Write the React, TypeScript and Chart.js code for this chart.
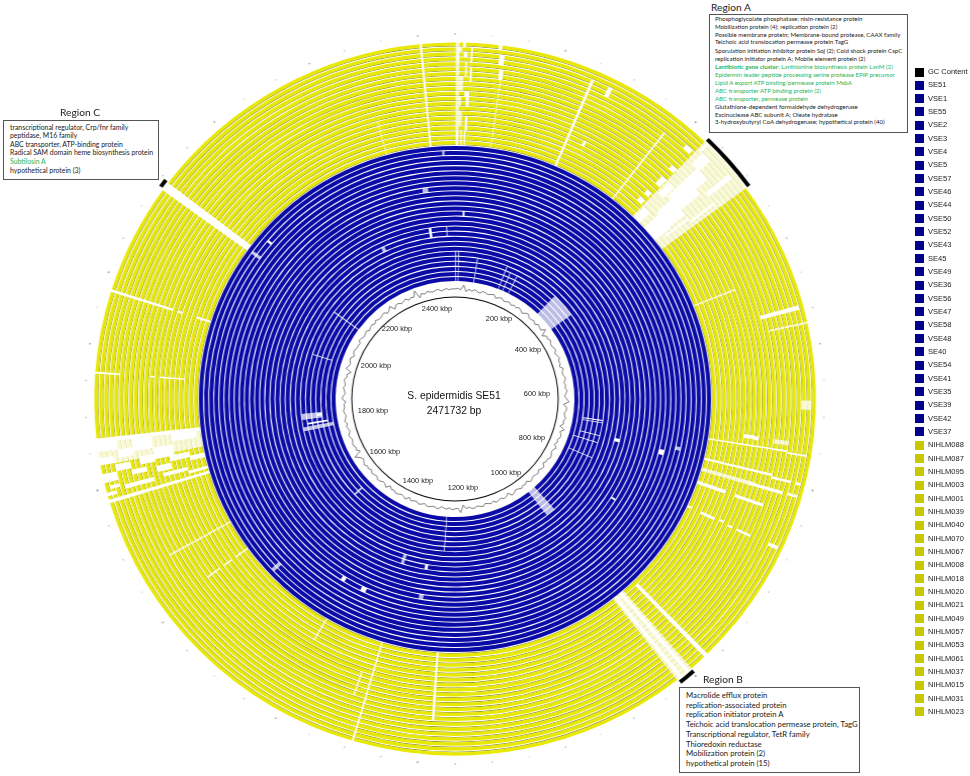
import React, { useEffect, useRef } from "react";
import { Chart, registerables } from "chart.js";

Chart.register(...registerables);

const genomeLengthKbp = 2471.732;

const blueGenomes = ["SE51","VSE1","SE55","VSE2","VSE3","VSE4","VSE5","VSE57","VSE46","VSE44","VSE50","VSE52","VSE43","SE45","VSE49","VSE36","VSE56","VSE47","VSE58","VSE48","SE40","VSE54","VSE41","VSE35","VSE39","VSE42","VSE37"];
const yellowGenomes = ["NIHLM088","NIHLM087","NIHLM095","NIHLM003","NIHLM001","NIHLM039","NIHLM040","NIHLM070","NIHLM067","NIHLM008","NIHLM018","NIHLM020","NIHLM021","NIHLM049","NIHLM057","NIHLM053","NIHLM061","NIHLM037","NIHLM015","NIHLM031","NIHLM023"];

// [start kbp, end kbp, first ring, last ring, identity (0 absent, 0.5 low)]
const blueGaps: number[][] = [
  [301,369,1,5,0.5],[145,147,1,5,0.5],[160,162,1,4,0],[181,183,1,4,0],[1,3,1,6,0.5],[9,11,1,6,0.5],[61,63,1,5,0.5],
  [2412,2422,19,19,0.5],[16,20,14,14,0],[2412,2418,10,11,0],[2452,2454,10,11,0],[2295,2303,10,10,0.5],[2452,2455,26,26,0.5],
  [674,677,3,6,0],[681,683,3,6,0.5],[716,718,3,6,0],[735,737,2,6,0],[778,780,2,6,0],[713,721,10,10,0],[713,723,19,19,0],[702,708,22,22,0.5],[839,843,14,14,0],
  [950,975,1,6,0.5],[1353,1360,10,11,0.5],[1298,1305,11,11,0],[1448,1456,19,19,0],[1405,1415,19,19,0],[1298,1306,17,17,0.5],[1262,1264,1,7,0],[1552,1558,25,26,0.5],
  [1800,1815,4,7,0.5],[1805,1812,4,4,0],[1785,1790,3,6,0],[1770,1780,2,7,0.5],[1550,1555,3,4,0.5],[2100,2103,1,6,0.5],[2130,2134,25,25,0],[2100,2105,25,26,0.5],[1974,1976,3,6,0.5],
];

const yellowGaps: number[][] = [
  // Region A
  [301,369,1,21,0.5],[326,352,1,4,0],[322,350,5,8,0],[316,342,9,13,0],[316,334,14,16,0],[304,316,1,3,0],[304,314,8,10,0],[308,320,17,19,0],[355,358,3,8,0],[345,351,15,20,0],[303,306,20,21,0],[360,363,9,14,0],
  [289,298,4,4,0],[290,298,6,6,0],[292,300,9,10,0],[292,300,13,13,0],[288,298,18,18,0],[259,261,1,17,0],
  // Top of the circle
  [1,5,1,21,0.5],[9,12,21,21,0],[4,8,20,20,0.5],[10,14,19,19,0],[2,5,18,20,0],[18,20,18,20,0],[12,14,15,17,0.5],[18,20,14,16,0],[3,10,12,14,0.5],[12,16,11,11,0],[3,8,9,10,0.5],[14,18,9,11,0],[5,9,5,7,0.5],[14,17,4,6,0],[1,5,1,3,0],[8,10,1,3,0],[13,15,1,3,0],
  [48,52,21,21,0],[50,56,18,19,0],[52,57,15,16,0],[54.5,55.5,1,14,0],[2433,2435.5,1,21,0],[2365,2366,1,7,0.5],[157,160,1,19,0],[178,183,18,19,0],[180,184,7,7,0],
  // Right side
  [512,517,13,15,0],[512,517,16,18,0],[512,517,19,20,0],[532,534,14,21,0.5],[469,471,1,9,0.5],[620,630,19,20,0.5],[666,671,8,9,0],[667,672,10,10,0],[668,673,14,16,0.5],
  [679,681,1,16,0],[681,683,17,20,0],[710,713,1,14,0],[726,731,1,11,0.5],[727,731,11,15,0],[727,731,16,17,0],[727,730,19,20,0],[713,716,15,18,0],[713,716,20,20,0],
  [747,752,1,6,0],[748,752,9,14,0],[788,791,1,1,0],[788,792,4,6,0],[787,790,8,8,0],[789,792,10,10,0],[789,792,12,14,0],[788,792,19,20,0],
  // Region B
  [955,975,1,21,0.5],[958,962,1,21,0],[968,972,1,21,0],[931,936,2,10,0],[931,936,11,17,0],[931,936,18,21,0],
  // Bottom
  [1261,1264,1,14,0],[1348,1350,1,21,0],[1363,1365,8,12,0.5],[1441,1443,1,5,0.5],[1654,1656,1,14,0.5],[1605,1607,1,3,0],[1605,1607,5,6,0],[1605,1607,8,10,0],
  // Left side
  [1805,1810,1,21,0],[1737,1741,1,21,0],[1780,1805,1,21,0.5],[1795,1805,18,21,0],[1785,1795,15,17,0],[1790,1805,11,14,0],[1775,1790,7,10,0],[1795,1805,2,6,0],[1780,1788,19,21,0],[1770,1778,16,18,0],[1772,1782,11,13,0],[1768,1776,4,7,0],[1760,1770,19,21,0],[1762,1768,13,15,0],[1758,1766,8,10,0],[1763,1770,1,3,0],[1752,1756,19,20,0],[1748,1753,12,17,0],[1750,1755,5,9,0],[1745,1749,20,21,0],[1745,1749,1,4,0],
  [1882,1884,17,21,0],[1882,1884,10,10,0],[1882,1884,4,8,0],[1974,1977,9,21,0],[1974,1977,7,7,0],[1974,1977,1,3,0],
  // Region C
  [2100,2110,1,21,0],[2102,2108,8,14,0.5],
];

const regionMarkers = [[301,369],[955,974],[2102,2111]];

// GC content (%), one reading every 10 kbp
const gcContent = [
  32.4,33.0,31.8,35.6,30.8,32.9,31.7,33.2,32.1,31.4,33.3,32.5,31.9,32.8,33.4,31.2,32.6,33.1,31.6,32.2,
  33.0,31.5,32.7,31.9,33.2,32.3,31.1,32.9,33.6,31.7,32.0,32.8,31.3,33.1,32.4,31.8,34.8,29.8,32.6,31.9,
  33.3,32.1,31.6,32.7,33.0,31.4,32.5,33.2,31.8,32.3,30.9,33.4,32.0,31.7,32.9,33.1,31.5,32.6,31.9,33.3,
  32.2,31.2,32.8,34.5,30.4,32.7,33.0,31.6,32.1,33.2,31.8,32.5,30.2,34.2,31.4,32.9,33.1,31.7,32.4,31.0,
  33.5,32.0,31.6,32.8,33.3,31.9,32.2,30.8,33.2,32.6,31.5,33.0,32.3,31.8,32.7,33.4,31.1,32.5,31.9,33.1,
  32.0,31.4,32.9,33.6,30.6,32.4,33.0,31.7,32.2,33.3,31.6,32.8,32.1,31.3,33.2,32.5,31.8,32.9,33.0,31.5,
  32.6,29.6,35.2,31.8,32.3,33.1,31.6,32.7,32.0,31.2,33.4,32.4,31.9,32.8,33.0,31.4,32.5,33.3,31.7,32.1,
  32.9,31.0,33.5,32.2,31.6,32.7,33.1,31.8,32.4,30.7,33.6,32.0,31.5,32.9,33.2,31.7,32.3,33.0,31.4,32.6,
  31.9,33.3,32.1,31.2,32.8,36.0,30.2,32.5,31.8,33.1,32.4,31.6,32.7,33.2,31.3,32.0,32.9,31.7,33.4,32.2,
  31.5,32.6,33.0,31.9,32.3,30.9,33.5,32.8,31.4,32.1,33.1,31.8,32.5,33.3,31.6,32.0,29.4,33.9,32.4,31.7,
  32.9,33.2,31.1,32.6,33.0,31.9,32.2,31.5,33.4,32.7,31.8,32.3,33.1,31.3,32.5,32.9,31.6,33.2,32.0,31.8,
  32.6,33.3,31.2,32.4,34.6,30.5,32.8,33.0,31.7,32.1,33.5,31.4,32.7,32.0,36.4,30.1,32.9,31.6,33.1,32.3,
  31.8,32.5,33.2,31.5,32.2,33.0,31.9,32.6,
];
const gcTickKbp = gcContent.map((_, i) => i * 10);

// Faint guide dots outside the rings, one every 40 kbp (darkness 1-9)
const guideDots = [4,2,2,5,2,3,2,7,3,2,2,4,2,3,5,2,3,2,6,3,2,3,2,4,7,2,3,2,3,2,3,4,6,3,3,2,5,3,2,3,6,2,3,3,7,2,3,3,5,2,6,3,2,4,3,6,2,3,5,3,2,5];

const kbpLabels = ["2400 kbp","200 kbp","400 kbp","600 kbp","800 kbp","1000 kbp","1200 kbp","1400 kbp","1600 kbp","1800 kbp","2000 kbp","2200 kbp"];
const kbpLabelX = [437,499,528,537,532,506,463,418,385,373,376,397];
const kbpLabelY = [309,319,350,394,438,473,488,481,452,411,366,329];

const regionALines = [
  "Phosphoglycolate phosphatase; nisin-resistance protein",
  "Mobilization protein (4); replication protein (2)",
  "Possible membrane protein; Membrane-bound protease, CAAX family",
  "Teichoic acid translocation permease protein TagG",
  "Sporulation initiation inhibitor protein Soj (2); Cold shock protein CspC",
  "replication initiator protein A; Mobile element protein (2)",
  "Lantibiotic gene cluster: Lanthionine biosynthesis protein LanM (2)",
  "Epidermin leader peptide processing serine protease EPIP precursor",
  "Lipid A export ATP binding/permease protein MsbA",
  "ABC transporter ATP binding protein (2)",
  "ABC transporter, permease protein",
  "Glutathione-dependent formaldehyde dehydrogenase",
  "Excinuclease ABC subunit A; Oleate hydratase",
  "3-hydroxybutyryl CoA dehydrogenase; hypothetical protein (40)",
];
const regionAGreen = [6,7,8,9,10];
const regionBLines = [
  "Macrolide efflux protein",
  "replication-associated protein",
  "replication initiator protein A",
  "Teichoic acid translocation permease protein, TagG",
  "Transcriptional regulator, TetR family",
  "Thioredoxin reductase",
  "Mobilization protein (2)",
  "hypothetical protein (15)",
];
const regionCLines = [
  "transcriptional regulator, Crp/fnr family",
  "peptidase, M16 family",
  "ABC transporter, ATP-binding protein",
  "Radical SAM domain heme biosynthesis protein",
  "Subtilosin A",
  "hypothetical protein (3)",
];
const regionCGreen = [4];

const SIZE = 748;
const CLEAR = "rgba(0,0,0,0)";

function ringSegments(ring: number, gaps: number[][]) {
  const own = gaps.filter((g) => ring >= g[2] && ring <= g[3]);
  const cuts = Array.from(new Set([0, genomeLengthKbp, ...own.flatMap((g) => [g[0], g[1]])])).sort((a, b) => a - b);
  const data: number[] = [];
  const identity: number[] = [];
  for (let i = 0; i < cuts.length - 1; i++) {
    const a = cuts[i], b = cuts[i + 1];
    const id = own.filter((g) => g[0] <= a && g[1] >= b).reduce((m, g) => Math.min(m, g[4]), 1);
    if (identity.length && identity[identity.length - 1] === id) data[data.length - 1] += b - a;
    else { data.push(b - a); identity.push(id); }
  }
  return { data, identity };
}

function band(label: string, seg: { data: number[]; identity: number[] }, full: string, pale: string, weight: number) {
  return {
    label,
    data: seg.data,
    weight,
    backgroundColor: seg.identity.map((id) => (id === 1 ? full : id === 0 ? CLEAR : pale)),
    borderWidth: 0,
  };
}

function spacer(weight: number) {
  return { label: "", data: [genomeLengthKbp], weight, backgroundColor: [CLEAR], borderWidth: 0 };
}

function buildRings() {
  const sets: any[] = [];
  const markerData: number[] = [];
  const markerColors: string[] = [];
  let pos = 0;
  regionMarkers.forEach(([a, b]) => {
    markerData.push(a - pos, b - a);
    markerColors.push(CLEAR, "#000000");
    pos = b;
  });
  markerData.push(genomeLengthKbp - pos);
  markerColors.push(CLEAR);
  sets.push({ label: "Regions", data: markerData, weight: 4, backgroundColor: markerColors, borderWidth: 0 });
  sets.push(spacer(1.5));
  for (let i = yellowGenomes.length; i >= 1; i--) {
    const seg = ringSegments(i, yellowGaps);
    sets.push(band(yellowGenomes[i - 1], seg, "#e8e800", "#f9f9d0", 3.2));
    sets.push(band(yellowGenomes[i - 1] + " edge", seg, "#94941a", "#d8d890", 0.75));
    sets.push(spacer(0.98));
  }
  for (let i = blueGenomes.length; i >= 1; i--) {
    const seg = ringSegments(i, blueGaps);
    sets.push(band(blueGenomes[i - 1], seg, "#0a0aa6", "#bcbce6", 4.0));
    sets.push(spacer(1.04));
  }
  sets.push(spacer(14.5));
  sets.push({ label: "Backbone", data: [genomeLengthKbp], weight: 1, backgroundColor: ["#000000"], borderWidth: 0 });
  return sets;
}

function TextBox({ title, lines, green, boldLead, box, titlePos, font, lineTop, left }: any) {
  return (
    <>
      <div style={{ position: "absolute", left: titlePos[0], top: titlePos[1], font: "10.2px Lato, sans-serif", color: "#222", whiteSpace: "nowrap", lineHeight: "14px" }}>{title}</div>
      <div style={{ position: "absolute", left: box[0], top: box[1], width: box[2], height: box[3], boxSizing: "border-box", border: "1px solid #555", borderRight: "1.5px solid #555", borderBottom: "1.5px solid #555", background: "#fff" }} />
      {lines.map((t: string, i: number) => {
        const isGreen = green.includes(i);
        const parts = boldLead && t.startsWith(boldLead) ? [boldLead, t.slice(boldLead.length)] : [null, t];
        return (
          <div key={i} style={{ position: "absolute", left, top: lineTop[i] - 6, height: 12, lineHeight: "12px", font: `${font}px Lato, sans-serif`, whiteSpace: "nowrap", color: isGreen ? "#1fb45a" : "#1a1a1a" }}>
            {parts[0] ? <b>{parts[0]}</b> : null}{parts[1]}
          </div>
        );
      })}
    </>
  );
}

export default function App() {
  const ringRef = useRef<HTMLCanvasElement>(null);
  const gcRef = useRef<HTMLCanvasElement>(null);

  useEffect(() => {
    const rings = new Chart(ringRef.current!, {
      type: "doughnut",
      data: { labels: [], datasets: buildRings() },
      options: {
        responsive: false,
        animation: false,
        events: [],
        radius: 362,
        cutout: (101.5 / 362) * 100 + "%",
        layout: { padding: 0 },
        plugins: { legend: { display: false }, tooltip: { enabled: false } },
      } as any,
    });
    const gcBase = 32;
    const pxPerUnit = 1.3;
    const rMin = gcBase - 109.5 / pxPerUnit;
    const rMax = rMin + SIZE / 2 / pxPerUnit;
    const dotValue = rMin + 365 / pxPerUnit;
    const gc = new Chart(gcRef.current!, {
      type: "radar",
      data: {
        labels: gcTickKbp.map(String),
        datasets: [
          { label: "GC Content", data: gcContent, borderColor: "#2a2a2a", borderWidth: 0.6, pointRadius: 0, fill: false, tension: 0 },
          {
            label: "guide",
            data: gcTickKbp.map((_, i) => (i % 4 === 0 ? dotValue : null)),
            showLine: false,
            pointRadius: 0.9,
            pointBorderWidth: 0,
            pointBackgroundColor: gcTickKbp.map((_, i) => {
              const d = guideDots[i / 4] ?? 2;
              return `rgba(90,90,90,${d / 10})`;
            }),
          },
        ],
      },
      options: {
        responsive: false,
        animation: false,
        events: [],
        layout: { padding: 0 },
        scales: { r: { display: false, min: rMin, max: rMax } },
        plugins: { legend: { display: false }, tooltip: { enabled: false } },
      } as any,
    });
    return () => { rings.destroy(); gc.destroy(); };
  }, []);

  const legend = [
    ["GC Content", "#000000"],
    ...blueGenomes.map((n) => [n, "#00008b"]),
    ...yellowGenomes.map((n) => [n, "#c8c800"]),
  ];

  return (
    <div style={{ position: "absolute", left: 0, top: 0, width: 970, height: 776, overflow: "hidden", background: "#fff", fontFamily: "'Liberation Sans', sans-serif" }}>
      <div style={{ position: "absolute", left: 80.5, top: 24.5, width: SIZE, height: SIZE, transform: "scaleX(1.012)" }}>
        <canvas ref={ringRef} width={SIZE} height={SIZE} style={{ position: "absolute", left: 0, top: 0 }} />
        <canvas ref={gcRef} width={SIZE} height={SIZE} style={{ position: "absolute", left: 0, top: 0 }} />
      </div>

      {kbpLabels.map((t, i) => (
        <div key={t} style={{ position: "absolute", left: kbpLabelX[i] - 30, top: kbpLabelY[i] - 6, width: 60, height: 12, lineHeight: "12px", textAlign: "center", fontSize: 7.4, color: "#222" }}>{t}</div>
      ))}
      <div style={{ position: "absolute", left: 374, top: 389, width: 160, height: 14, lineHeight: "14px", textAlign: "center", fontSize: 10.3, color: "#111" }}>S. epidermidis SE51</div>
      <div style={{ position: "absolute", left: 374, top: 404, width: 160, height: 14, lineHeight: "14px", textAlign: "center", fontSize: 10.3, color: "#111" }}>2471732 bp</div>

      <TextBox title="Region A" lines={regionALines} green={regionAGreen} boldLead="Lantibiotic gene cluster:" box={[709, 14, 199, 119]} titlePos={[711, 0]} font={6.09} left={715}
        lineTop={[20.7,28.7,36.7,44.3,52.7,60.7,68.7,76.7,84.7,92.7,101,109,117,124]} />
      <TextBox title="Region C" lines={regionCLines} green={regionCGreen} box={[3, 120, 156, 60]} titlePos={[60, 105]} font={6.9} left={10}
        lineTop={[129,137,146,154,163,172]} />
      <TextBox title="Region B" lines={regionBLines} green={[]} box={[679, 687, 181, 86]} titlePos={[703, 672]} font={7.75} left={686}
        lineTop={[696,706,715,725,735,745,754,764]} />

      {legend.map(([name, color], i) => (
        <React.Fragment key={name}>
          <div style={{ position: "absolute", left: 915, top: 67.5 + i * 13.33, width: 9, height: 9, background: color }} />
          <div style={{ position: "absolute", left: 928, top: 66 + i * 13.33, height: 12, lineHeight: "12px", fontSize: 7.5, color: "#222", whiteSpace: "nowrap" }}>{name}</div>
        </React.Fragment>
      ))}
    </div>
  );
}
